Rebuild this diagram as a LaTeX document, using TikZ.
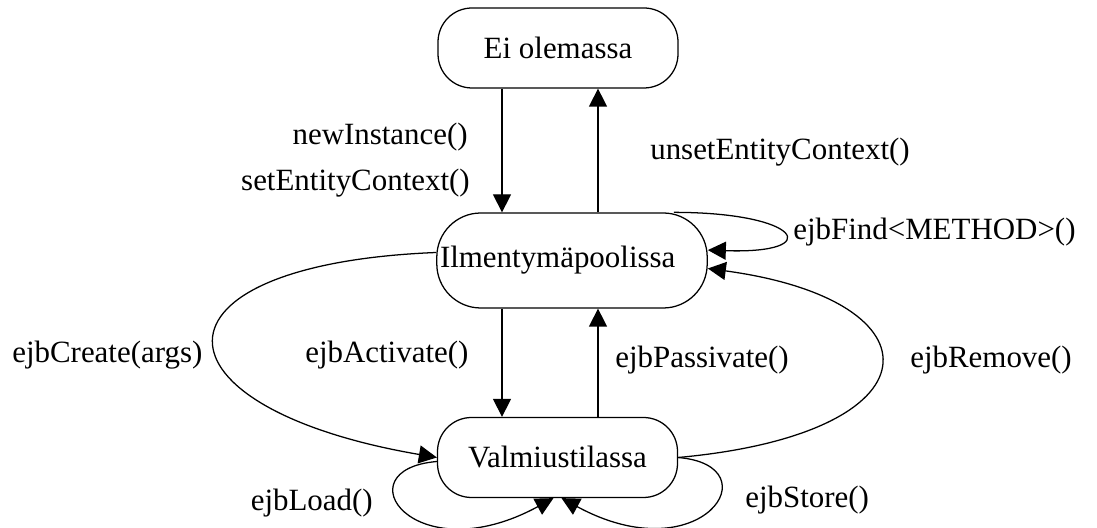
\documentclass[tikz,border=0pt]{standalone}
\usepackage{fontspec}
\setmainfont{Liberation Serif}
\usetikzlibrary{arrows.meta}

\begin{document}
\begin{tikzpicture}[
    statebox/.style={draw, line width=0.9pt, minimum width=6cm, minimum height=2cm, rounded corners=0.85cm},
    lbl/.style={inner sep=0pt},
    arr/.style={line width=0.9pt, -{Triangle[length=0.45cm, width=0.45cm]}},
    font=\fontsize{22}{26}\selectfont]
    \useasboundingbox (0, 0) rectangle (27.425, 13.2);

    \node[statebox](ei) at (13.95, 12) {Ei olemassa};
    \node[statebox, rounded corners=1.1cm, minimum height=2.375cm,
        text width=6.6cm, align=left, inner xsep=0.08cm](ilm) at (14.3, 6.6875) {Ilmentymäpoolissa};
    \node[statebox](valm) at (13.9375, 1.7625) {Valmiustilassa};

    % the two straight lanes
    \coordinate(downx) at ([xshift=-1.4cm]ei.south);
    \coordinate(upx) at ([xshift=1cm]ei.south);
    \draw[arr] (downx) -- (downx |- ilm.north);
    \draw[arr] (upx |- ilm.north) -- (upx);
    \draw[arr] (downx |- ilm.south) -- (downx |- valm.north);
    \draw[arr] (upx |- valm.north) -- (upx |- ilm.south);

    \node[lbl, anchor=east](newi) at (11.7, 9.775) {newInstance()};
    \node[lbl, anchor=east](setc) at (11.75, 8.625) {setEntityContext()};
    \node[lbl, anchor=west](unset) at (16.25, 9.4) {unsetEntityContext()};
    \node[lbl, anchor=west](find) at (19.825, 7.4) {ejbFind\textless METHOD\textgreater()};
    \node[lbl, anchor=west](create) at (0.3, 4.325) {ejbCreate(args)};
    \node[lbl, anchor=west](act) at (7.625, 4.325) {ejbActivate()};
    \node[lbl, anchor=west](pass) at (15.375, 4.2) {ejbPassivate()};
    \node[lbl, anchor=west](remove) at (22.75, 4.2) {ejbRemove()};
    \node[lbl, anchor=east](load) at (9.325, 0.625) {ejbLoad()};
    \node[lbl, anchor=west](store) at (18.625, 0.7) {ejbStore()};

    % loops and side arcs
    \draw[arr] ([yshift=0.2cm]ilm.west)
    .. controls +(-7.5, -0.3) and +(-7.3, 1.25) .. (valm.west);
    \draw[arr] (valm.east)
    .. controls +(6.6, 0.6) and +(5.9, -0.8) .. ([yshift=-0.2cm]ilm.east);
    \draw[arr] ([xshift=-0.85cm]ilm.north east)
    .. controls +(3.2, 0) and +(2.95, -0.1) .. ([yshift=0.26cm]ilm.east);
    \draw[arr] (valm.east)
    .. controls +(2.4, -0.2) and +(3.5, -1.9) .. ([xshift=0.1cm]valm.south);
    \draw[arr] ([yshift=-0.1cm]valm.west)
    .. controls +(-2.4, -0.2) and +(-3.5, -1.9) .. ([xshift=-0.1cm]valm.south);
\end{tikzpicture}
\end{document}
